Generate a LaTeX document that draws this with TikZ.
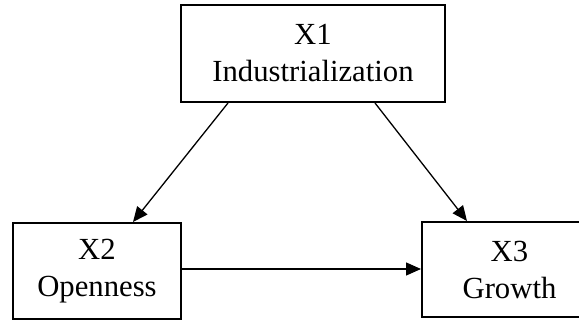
\documentclass[tikz,border=0pt]{standalone}
\usepackage{fontspec}
\setmainfont{Liberation Serif}
\usepackage{tikz}
\usetikzlibrary{arrows.meta}
\tikzset{>={Triangle[length=15pt,width=13pt]}}
\tikzset{var/.style={draw,line width=2pt,align=center,inner sep=0pt,font=\fontsize{30.7}{37}\selectfont}}

\begin{document}
\begin{tikzpicture}[x=1pt,y=-1pt]
    \useasboundingbox (0,0) rectangle (579,320);
    \node[var,minimum width=264pt,minimum height=97pt] (x1) at (313,53.5) {X1\\Industrialization};
    \node[var,minimum width=168pt,minimum height=96pt] (x2) at (97,271) {X2\\Openness};
    \node[var,minimum width=175pt,minimum height=95pt] (x3) at (509.5,269.5) {X3\\Growth};
    \draw[->,line width=1.3pt] ([xshift=48pt]x1.south west) -- ([xshift=121pt]x2.north west);
    \draw[->,line width=1.3pt] ([xshift=-71pt]x1.south east) -- ([xshift=46pt]x3.north west);
    \draw[->,line width=1.3pt] ([yshift=2pt]x2.east) -- ([yshift=2pt]x2.east -| x3.west);
  \end{tikzpicture}
\end{document}
